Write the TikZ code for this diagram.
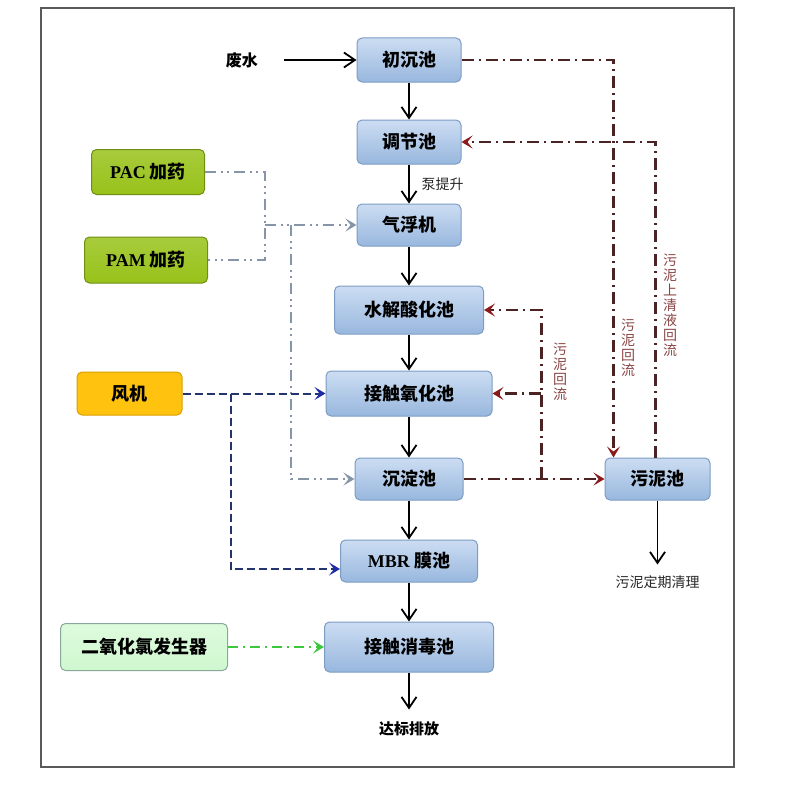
\documentclass[tikz,border=0pt]{standalone}
\usepackage{fontspec}
\setmainfont{Noto Sans CJK SC}
\newfontfamily\latfont{Liberation Serif}
\usetikzlibrary{positioning,calc,arrows.meta}
\definecolor{pooltop}{HTML}{CCDDF2}
\definecolor{poolbot}{HTML}{98B7DE}
\definecolor{poolline}{HTML}{7C9CC4}
\definecolor{pacgreen}{HTML}{98C21A}
\definecolor{pacline}{HTML}{6E8F12}
\definecolor{fanamber}{HTML}{FFC30F}
\definecolor{fanline}{HTML}{D9A000}
\definecolor{genmint}{HTML}{CFF8CF}
\definecolor{genline}{HTML}{8AA89A}
\definecolor{sludge}{HTML}{4B2323}
\definecolor{sludgetip}{HTML}{8B1A1A}
\definecolor{sludgetext}{HTML}{8A4545}
\definecolor{dosegray}{HTML}{8696A8}
\definecolor{airblue}{HTML}{24346E}
\definecolor{airtip}{HTML}{1E2AA8}
\definecolor{clogreen}{HTML}{3CC83C}
\definecolor{framegray}{HTML}{5A5A5A}

\begin{document}
\begin{tikzpicture}[x=1pt, y=-1pt,
    node distance=39pt and 40pt,
    pool/.style={rectangle, rounded corners=5pt, draw=poolline, line width=1pt,
                 top color=pooltop, bottom color=poolbot, text=black,
                 minimum height=44pt, minimum width=104pt, align=center,
                 font=\fontsize{18}{20}\selectfont\bfseries},
    dosebox/.style={pool, draw=pacline, top color=pacgreen!85, bottom color=pacgreen,
                    minimum height=45pt},
    fanbox/.style={pool, draw=fanline, top color=fanamber, bottom color=fanamber,
                   minimum width=105pt, minimum height=43pt},
    genbox/.style={pool, draw=genline, top color=genmint!70, bottom color=genmint,
                   minimum width=167pt, minimum height=47pt},
    plain/.style={font=\fontsize{16}{18}\selectfont\bfseries, text=black},
    note/.style={font=\fontsize{14}{16}\selectfont, text=black!85},
    vlabel/.style={font=\fontsize{14}{15}\selectfont, text=sludgetext, align=center,
                   inner sep=0pt},
    flow/.style={-{Straight Barb[length=11pt,width=15pt,line width=1.8pt]}, line width=1.8pt, black},
    sl/.style={sludge, line width=2.2pt, dash pattern=on 12pt off 5pt on 2pt off 5pt},
    slarrow/.style={sl, -{Stealth[length=11pt,width=13pt,inset=5pt,sludgetip]}},
    dose/.style={dosegray, line width=1.8pt, dash pattern=on 11pt off 5pt on 2pt off 4pt on 2pt off 5pt},
    dosearrow/.style={dose, -{Stealth[length=11pt,width=13pt,inset=5pt,dosegray]}},
    air/.style={airblue, line width=2pt, dash pattern=on 8pt off 4pt},
    airarrow/.style={air, -{Stealth[length=11pt,width=13pt,inset=5pt,airtip]}},
    cloarrow/.style={clogreen, line width=1.8pt, dash pattern=on 10pt off 5pt on 2pt off 5pt,
                     -{Stealth[length=11pt,width=13pt,inset=5pt,clogreen]}}
]
\useasboundingbox (0,0) rectangle (800,800);
\draw[framegray, line width=2pt] (41,8) rectangle (734,767);

% Blocks
\node[pool] (ccc) at (409,60) {初沉池};
\node[pool, below=37pt of ccc] (tjc) {调节池};
\node[pool, below=of tjc, minimum height=42pt] (qfj) {气浮机};
\node[pool, below=of qfj, minimum width=149pt, minimum height=48pt] (sjs) {水解酸化池};
\node[pool, below=36pt of sjs, minimum width=166pt, minimum height=45pt] (jcy) {接触氧化池};
\node[pool, below=41pt of jcy, minimum width=108pt, minimum height=42pt] (cdc) {沉淀池};
\node[pool, below=of cdc, minimum width=137pt, minimum height=42pt] (mbr) {{\latfont MBR} 膜池};
\node[pool, below=of mbr, minimum width=169pt, minimum height=50pt] (xdc) {接触消毒池};
\node[pool, right=141pt of cdc, minimum width=105pt, minimum height=42pt] (wnc) {污泥池};

\node[dosebox, minimum width=113pt] (pac) at (148,172) {{\latfont PAC} 加药};
\node[dosebox, minimum width=123pt, minimum height=46pt] (pam) at (146,260) {{\latfont PAM} 加药};
\node[fanbox, left=143pt of jcy] (fj) {风机};
\node[genbox, left=96pt of xdc] (eyh) {二氧化氯发生器};

% Texts
\node[plain, left=95pt of ccc] (fs) {废水};
\node[plain, font=\fontsize{15}{17}\selectfont\bfseries, below=46pt of xdc] (dbpf) {达标排放};
\node[note, below=72pt of wnc] (dqql) {污泥定期清理};
\node[note, anchor=west] (btsh) at ($(tjc.south)!0.5!(qfj.north)+(9,0)$) {泵提升};
\node[vlabel] (hl1) at (560,372) {污\\泥\\回\\流};
\node[vlabel] (hl2) at (628,348) {污\\泥\\回\\流};
\node[vlabel] (hl3) at (670,305) {污\\泥\\上\\清\\液\\回\\流};

% Main flow
\draw[flow, shorten <=22pt] (fs) -- (ccc);
\draw[flow] (ccc) -- (tjc);
\draw[flow] (tjc) -- (qfj);
\draw[flow] (qfj) -- (sjs);
\draw[flow] (sjs) -- (jcy);
\draw[flow] (jcy) -- (cdc);
\draw[flow] (cdc) -- (mbr);
\draw[flow] (mbr) -- (xdc);
\draw[flow, shorten >=9pt] (xdc) -- (dbpf);
\draw[flow, shorten >=8pt] (wnc) -- (dqql);

% Sludge lines
\draw[slarrow] (ccc.east) -| ([xshift=9pt]wnc.north west);
\draw[slarrow] ([xshift=-2pt]wnc.north) |- (tjc.east);
\draw[slarrow] (cdc.east) -- (wnc.west);
\coordinate (sj) at ($(cdc.east)!0.553!(wnc.west)$);
\draw[slarrow] (sj) |- (sjs.east);
\draw[slarrow] (sj |- jcy.east) -- (jcy.east);

% Dosing lines
\coordinate (dx) at (265,225);
\coordinate (dy) at (291,225);
\draw[dose] (pac.east) -- (pac.east -| dx) -- (pam.east -| dx) -- (pam.east);
\draw[dosearrow] (dx |- qfj.west) -- (qfj.west);
\draw[dosearrow] (dy |- qfj.west) |- (cdc.west);

% Air lines
\draw[airarrow] (fj.east) -- (jcy.west);
\coordinate (ax) at ($(fj.east)!0.336!(jcy.west)$);
\draw[airarrow] (ax) |- ([yshift=-8pt]mbr.west);

% Chlorine dioxide
\draw[cloarrow] (eyh.east) -- (xdc.west);

\end{tikzpicture}
\end{document}
